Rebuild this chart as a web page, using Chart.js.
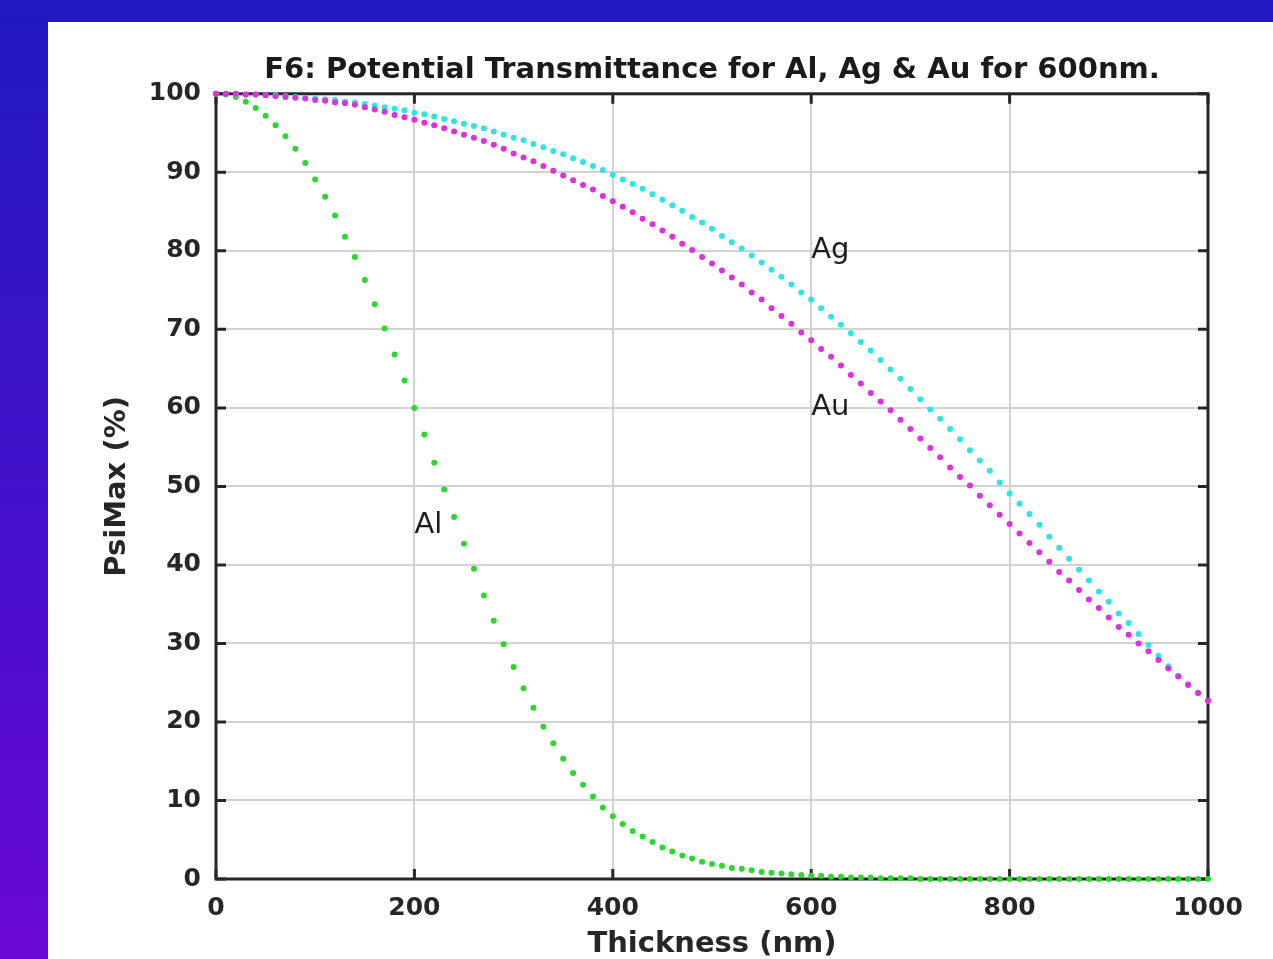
<!DOCTYPE html>
<html>
<head>
<meta charset="utf-8">
<title>F6: Potential Transmittance</title>
<script src="https://cdn.jsdelivr.net/npm/chart.js@4.4.1/dist/chart.umd.min.js"></script>
<style>
  html, body { margin:0; padding:0; }
  body {
    width:1273px; height:959px; overflow:hidden; position:relative;
    background: linear-gradient(180deg, #2119c3 0%, #4510cb 55%, #6a08d4 100%);
  }
  .panel { position:absolute; left:48px; top:22px; width:1225px; height:937px; background:#fff; }
</style>
</head>
<body>
<div class="panel"><canvas id="chart" width="1225" height="937"></canvas></div>
<script>
// Thickness in nm, one point every 10 nm
const thickness = [
  0,10,20,30,40,50,60,70,80,90,
  100,110,120,130,140,150,160,170,180,190,
  200,210,220,230,240,250,260,270,280,290,
  300,310,320,330,340,350,360,370,380,390,
  400,410,420,430,440,450,460,470,480,490,
  500,510,520,530,540,550,560,570,580,590,
  600,610,620,630,640,650,660,670,680,690,
  700,710,720,730,740,750,760,770,780,790,
  800,810,820,830,840,850,860,870,880,890,
  900,910,920,930,940,950,960,970,980,990,
  1000
];

// PsiMax (%)
const psiAl = [
  100,99.9,99.6,99.0,98.2,97.2,96.0,94.6,93.0,91.2,
  89.1,86.9,84.5,81.8,79.2,76.3,73.2,70.1,66.8,63.5,
  60.0,56.6,53.0,49.6,46.1,42.7,39.5,36.1,32.9,29.9,
  27.0,24.3,21.8,19.4,17.3,15.3,13.5,12.0,10.5,9.1,
  8.0,7.0,6.1,5.4,4.7,4.0,3.5,3.0,2.6,2.2,
  1.9,1.7,1.4,1.3,1.1,0.9,0.8,0.7,0.6,0.5,
  0.4,0.4,0.3,0.3,0.2,0.2,0.2,0.1,0.1,0.1,
  0.1,0,0,0,0,0,0,0,0,0,
  0,0,0,0,0,0,0,0,0,0,
  0,0,0,0,0,0,0,0,0,0,
  0
];
const psiAg = [
  100,100,100,99.9,99.9,99.8,99.8,99.7,99.6,99.5,
  99.4,99.3,99.2,99.0,98.9,98.7,98.5,98.3,98.1,97.9,
  97.6,97.4,97.1,96.8,96.5,96.2,95.9,95.6,95.2,94.8,
  94.4,94.1,93.6,93.2,92.7,92.3,91.8,91.3,90.8,90.3,
  89.7,89.1,88.5,87.9,87.2,86.5,85.8,85.1,84.3,83.6,
  82.8,81.9,81.1,80.3,79.4,78.5,77.6,76.7,75.7,74.7,
  73.8,72.7,71.6,70.6,69.5,68.4,67.3,66.1,64.9,63.7,
  62.4,61.1,59.8,58.6,57.3,56.0,54.6,53.3,52.0,50.5,
  49.1,47.8,46.5,45.1,43.6,42.2,40.8,39.4,38.0,36.6,
  35.3,33.8,32.6,31.2,29.8,28.4,27.1,25.9,24.8,23.7,
  22.7
];
const psiAu = [
  100,100,100,99.9,99.9,99.8,99.7,99.6,99.5,99.4,
  99.2,99.1,98.9,98.8,98.6,98.3,98.0,97.7,97.3,97.0,
  96.7,96.3,96.0,95.6,95.2,94.8,94.4,94.0,93.5,93.0,
  92.4,91.9,91.4,90.8,90.2,89.6,89.0,88.4,87.8,87.0,
  86.3,85.6,84.9,84.1,83.4,82.6,81.8,80.9,80.1,79.2,
  78.4,77.5,76.6,75.7,74.7,73.8,72.7,71.7,70.7,69.6,
  68.6,67.5,66.5,65.4,64.2,63.1,61.9,60.8,59.7,58.5,
  57.3,56.1,54.9,53.7,52.4,51.2,50.1,48.8,47.6,46.4,
  45.2,44.0,42.8,41.6,40.4,39.1,38.0,36.8,35.6,34.5,
  33.3,32.1,31.1,30.0,29.0,27.9,26.8,25.8,24.7,23.7,
  22.7
];

const xTicks = [0, 200, 400, 600, 800, 1000];
const yTicks = [0, 10, 20, 30, 40, 50, 60, 70, 80, 90, 100];

// curve labels: text, thickness, PsiMax
const curveLabels = [
  { text:'Ag', x:600, y:80 },
  { text:'Au', x:600, y:60 },
  { text:'Al', x:200, y:45 },
];

const FONT = 'DejaVu Sans, Verdana, sans-serif';

function pts(ys) {
  return thickness.map((t, i) => ({ x:t, y:ys[i] }));
}

// box round the axes with inward ticks (drawn under the dots)
const frame = {
  id:'frame',
  beforeDatasetsDraw(chart) {
    const { ctx, chartArea:a, scales:{ x, y } } = chart;
    const tl = 10;
    ctx.save();
    ctx.strokeStyle = '#262626';
    ctx.lineWidth = 3;
    ctx.strokeRect(a.left, a.top, a.right - a.left, a.bottom - a.top);
    ctx.beginPath();
    xTicks.forEach(v => {
      const px = x.getPixelForValue(v);
      ctx.moveTo(px, a.bottom); ctx.lineTo(px, a.bottom - tl);
      ctx.moveTo(px, a.top); ctx.lineTo(px, a.top + tl);
    });
    yTicks.forEach(v => {
      const py = y.getPixelForValue(v);
      ctx.moveTo(a.left, py); ctx.lineTo(a.left + tl, py);
      ctx.moveTo(a.right, py); ctx.lineTo(a.right - tl, py);
    });
    ctx.stroke();
    ctx.restore();
  },
  afterDatasetsDraw(chart) {
    const { ctx, scales:{ x, y } } = chart;
    ctx.save();
    ctx.fillStyle = '#1e1e1e';
    ctx.font = '29px ' + FONT;
    ctx.textAlign = 'left';
    ctx.textBaseline = 'middle';
    curveLabels.forEach(l => ctx.fillText(l.text, x.getPixelForValue(l.x), y.getPixelForValue(l.y)));
    ctx.restore();
  }
};

const dotStyle = { showLine:false, pointRadius:3, pointBorderWidth:0, pointHoverRadius:3, clip:false };

new Chart(document.getElementById('chart'), {
  type:'scatter',
  data:{
    datasets:[
      { label:'Au', data:pts(psiAu), backgroundColor:'#e02ee0', ...dotStyle },
      { label:'Ag', data:pts(psiAg), backgroundColor:'#2ee4e4', ...dotStyle },
      { label:'Al', data:pts(psiAl), backgroundColor:'#2cd82c', ...dotStyle },
    ]
  },
  options:{
    responsive:false,
    animation:false,
    layout:{ padding:{ top:0, right:65, bottom:0, left:0 } },
    plugins:{
      legend:{ display:false },
      tooltip:{ enabled:false },
      title:{
        display:true,
        fullSize:false,
        text:'F6: Potential Transmittance for Al, Ag & Au for 600nm.',
        color:'#1a1a1a',
        font:{ family:FONT, size:29, weight:'bold', lineHeight:1.2 },
        padding:{ top:31, bottom:6 }
      }
    },
    scales:{
      x:{
        type:'linear', min:0, max:1000,
        afterBuildTicks: s => { s.ticks = xTicks.map(v => ({ value:v })); },
        afterFit: s => { s.height = 80; },
        grid:{ color:'#d2d2d2', lineWidth:2, drawTicks:false },
        border:{ display:false },
        ticks:{ color:'#262626', padding:14, font:{ family:FONT, size:25, weight:'bold' },
                callback: v => String(v) },
        title:{ display:true, text:'Thickness (nm)', color:'#262626',
                font:{ family:FONT, size:29, weight:'bold', lineHeight:1.0 }, padding:{ top:0, bottom:0 } }
      },
      y:{
        min:0, max:100,
        afterBuildTicks: s => { s.ticks = yTicks.map(v => ({ value:v })); },
        afterFit: s => { s.width = 168; },
        grid:{ color:'#d2d2d2', lineWidth:2, drawTicks:false },
        border:{ display:false },
        ticks:{ color:'#262626', padding:15, font:{ family:FONT, size:25, weight:'bold' } },
        title:{ display:true, text:'PsiMax (%)', color:'#262626',
                font:{ family:FONT, size:29, weight:'bold' }, padding:{ top:52, bottom:0 } }
      }
    }
  },
  plugins:[frame]
});
</script>
</body>
</html>
